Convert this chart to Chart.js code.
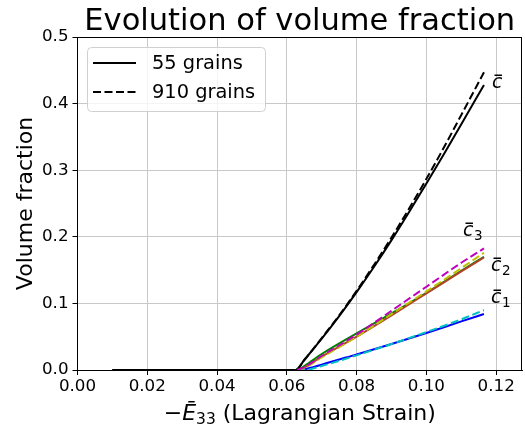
<!DOCTYPE html>
<html>
<head>
<meta charset="utf-8">
<script src="https://cdn.jsdelivr.net/npm/chart.js@4.4.1/dist/chart.umd.min.js"></script>
<style>
  html, body { margin: 0; padding: 0; background: #fff; }
</style>
</head>
<body>
<canvas id="chart" width="525" height="428"></canvas>
<script>
// ---- data ----
const strainBlack = [0.01, 0.02, 0.03, 0.04, 0.05, 0.06, 0.0625, 0.065, 0.07, 0.075, 0.08, 0.085, 0.09, 0.095, 0.10, 0.105, 0.11, 0.1165];
const cBar55      = [0, 0, 0, 0, 0, 0, 0, 0.015, 0.047, 0.081, 0.117, 0.155, 0.195, 0.237, 0.280, 0.324, 0.369, 0.428];
const cBar910     = [0, 0, 0, 0, 0, 0, 0, 0.015, 0.048, 0.082, 0.119, 0.158, 0.199, 0.242, 0.287, 0.334, 0.383, 0.447];

const strainPhase = [0.063, 0.065, 0.07, 0.08, 0.09, 0.10, 0.11, 0.1165];
const c1_55  = [0, 0.001, 0.008, 0.0235, 0.039, 0.0555, 0.073, 0.084];
const c2_55  = [0, 0.004, 0.020, 0.050, 0.082, 0.115, 0.148, 0.169];
const c3_55  = [0, 0.006, 0.024, 0.055, 0.085, 0.116, 0.149, 0.170];
const c1_910 = [0, 0, 0.006, 0.022, 0.039, 0.057, 0.076, 0.090];
const c2_910 = [0, 0.003, 0.019, 0.050, 0.084, 0.118, 0.153, 0.176];
const c3_910 = [0, 0.004, 0.021, 0.053, 0.089, 0.125, 0.161, 0.1825];

const xTicks = [0, 0.02, 0.04, 0.06, 0.08, 0.10, 0.12];
const yTicks = [0, 0.1, 0.2, 0.3, 0.4, 0.5];
const legendLabels = ["55 grains", "910 grains"];

const FONT = "'DejaVu Sans', sans-serif";
const DASH = [8, 3.5];

function pts(xs, ys) {
    return xs.map((x, i) => ({ x: x, y: ys[i] }));
}

function series(xs, ys, color, dashed) {
    return {
        data: pts(xs, ys),
        borderColor: color,
        borderWidth: 2,
        borderDash: dashed ? DASH : [],
        pointRadius: 0,
        fill: false,
        cubicInterpolationMode: "monotone"
    };
}

// first dataset ends up on top
const datasets = [
    series(strainPhase, c3_910, "#bf00bf", true),
    series(strainPhase, c2_910, "#bfbf00", true),
    series(strainPhase, c1_910, "#00bfbf", true),
    series(strainBlack, cBar910, "#000000", true),
    series(strainPhase, c2_55, "#b0442a", false),
    series(strainPhase, c3_55, "#008000", false),
    series(strainPhase, c1_55, "#0000ff", false),
    series(strainBlack, cBar55, "#000000", false)
];

function cbar(ctx, x, y, sub) {
    ctx.font = "italic 19px " + FONT;
    ctx.textAlign = "left";
    ctx.textBaseline = "alphabetic";
    ctx.fillText("c", x, y);
    const w = ctx.measureText("c").width;
    ctx.fillRect(x + 2.5, y - 13.5, w - 3, 1.5);
    if (sub) {
        ctx.font = "13.5px " + FONT;
        ctx.fillText(sub, x + w + 0.5, y + 3.5);
    }
}

const decor = {
    id: "decor",
    afterDatasetsDraw(chart) {
        const ctx = chart.ctx;
        const a = chart.chartArea;
        ctx.save();

        // frame
        ctx.strokeStyle = "#000";
        ctx.lineWidth = 1;
        ctx.strokeRect(a.left, a.top + 0.5, a.right - a.left - 0.5, a.bottom - a.top);

        // legend
        const lx = 87.5, ly = 47.5, lw = 178, lh = 64;
        ctx.beginPath();
        ctx.roundRect(lx, ly, lw, lh, 4);
        ctx.fillStyle = "rgba(255,255,255,0.8)";
        ctx.fill();
        ctx.strokeStyle = "#d0d0d0";
        ctx.stroke();

        const rows = [63, 92];
        ctx.strokeStyle = "#000";
        ctx.lineWidth = 2;
        rows.forEach((ry, i) => {
            ctx.setLineDash(i === 0 ? [] : DASH);
            ctx.beginPath();
            ctx.moveTo(93, ry);
            ctx.lineTo(136, ry);
            ctx.stroke();
        });
        ctx.setLineDash([]);
        ctx.fillStyle = "#000";
        ctx.font = "19.4px " + FONT;
        ctx.textBaseline = "middle";
        ctx.textAlign = "left";
        rows.forEach((ry, i) => ctx.fillText(legendLabels[i], 152, ry + 1));

        // curve labels
        cbar(ctx, 492, 88, "");
        cbar(ctx, 463, 236, "3");
        cbar(ctx, 491, 271, "2");
        cbar(ctx, 491, 303, "1");

        ctx.restore();
    },
    afterDraw(chart) {
        const ctx = chart.ctx;
        const a = chart.chartArea;
        const cx = (a.left + a.right) / 2;
        ctx.save();
        ctx.fillStyle = "#000";

        // title
        ctx.font = "30.5px " + FONT;
        ctx.textAlign = "center";
        ctx.textBaseline = "alphabetic";
        ctx.fillText("Evolution of volume fraction", cx, 30);

        // y label
        ctx.save();
        ctx.translate(32, (a.top + a.bottom) / 2);
        ctx.rotate(-Math.PI / 2);
        ctx.font = "22px " + FONT;
        ctx.fillText("Volume fraction", 0, 0);
        ctx.restore();

        // x label: −Ē33 (Lagrangian Strain)
        const parts = [
            { t: "\u2212", f: "22px " + FONT, dy: 0 },
            { t: "\u0112", f: "italic 22px " + FONT, dy: 0 },
            { t: "33", f: "15.5px " + FONT, dy: 4 },
            { t: " (Lagrangian Strain)", f: "22px " + FONT, dy: 0 }
        ];
        let total = 0;
        parts.forEach(p => { ctx.font = p.f; p.w = ctx.measureText(p.t).width; total += p.w; });
        let x = cx - total / 2;
        ctx.textAlign = "left";
        parts.forEach(p => {
            ctx.font = p.f;
            ctx.fillText(p.t, x, 420 + p.dy);
            x += p.w;
        });
        ctx.restore();
    }
};

new Chart(document.getElementById("chart"), {
    type: "line",
    data: { datasets: datasets },
    options: {
        responsive: false,
        animation: false,
        layout: { padding: { top: 37, right: 3, left: 0, bottom: 0 } },
        plugins: {
            legend: { display: false },
            tooltip: { enabled: false },
            title: { display: false }
        },
        scales: {
            x: {
                type: "linear",
                min: 0,
                max: 0.1274,
                afterBuildTicks: (s) => { s.ticks = xTicks.map(v => ({ value: v })); },
                afterFit: (s) => { s.height = 58; },
                ticks: {
                    callback: (v) => v.toFixed(2),
                    color: "#000",
                    font: { family: FONT, size: 16.7 },
                    padding: 2,
                    maxRotation: 0,
                    autoSkip: false
                },
                grid: { color: "#c8c8c8", lineWidth: 1, tickLength: 5, tickColor: "#000" },
                border: { display: true, color: "#000" }
            },
            y: {
                min: 0,
                max: 0.5,
                afterBuildTicks: (s) => { s.ticks = yTicks.map(v => ({ value: v })); },
                afterFit: (s) => { s.width = 77.5; },
                ticks: {
                    callback: (v) => v.toFixed(1),
                    color: "#000",
                    font: { family: FONT, size: 16.7 },
                    padding: 4,
                    autoSkip: false
                },
                grid: { color: "#c8c8c8", lineWidth: 1, tickLength: 5, tickColor: "#000" },
                border: { display: true, color: "#000" }
            }
        }
    },
    plugins: [decor]
});
</script>
</body>
</html>
